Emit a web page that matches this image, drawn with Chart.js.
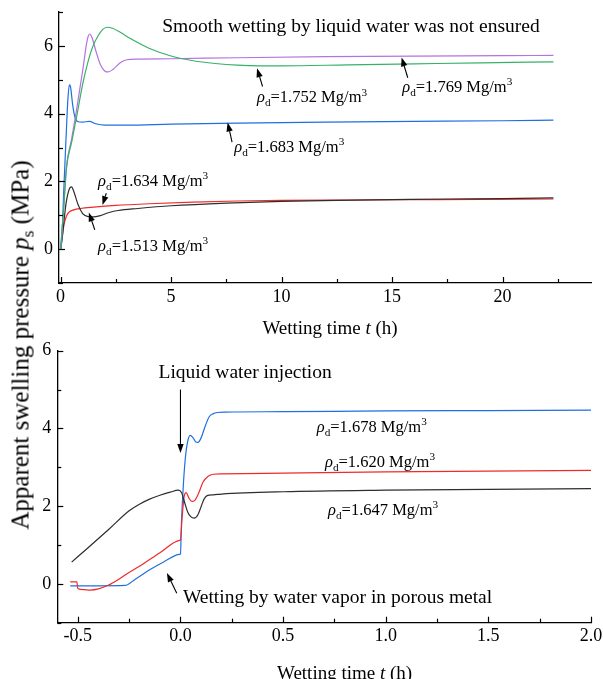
<!DOCTYPE html>
<html><head><meta charset="utf-8">
<script src="https://cdn.jsdelivr.net/npm/chart.js@4/dist/chart.umd.min.js"></script>
<style>
html,body{margin:0;padding:0;background:#fff;}
#wrap{position:relative;width:603px;height:679px;overflow:hidden;font-family:'Liberation Serif','Times New Roman',serif;color:#000;}
canvas{position:absolute;left:0;}
.t{position:absolute;white-space:nowrap;line-height:1;}
.t sub{font-size:0.7em;vertical-align:-0.3em;line-height:0;}
</style></head>
<body><div id="wrap">
<canvas id="c1" width="603" height="340" style="top:0"></canvas>
<canvas id="c2" width="603" height="339" style="top:340px"></canvas>
<div class="t" style="left:20px;top:345px;font-size:25px;transform:translate(-50%,-50%) rotate(-90deg);">Apparent swelling pressure <i>p</i><sub>s</sub> (MPa)</div>
<div class="t" style="left:330px;top:327px;font-size:19px;transform:translate(-50%,-50%);">Wetting time <i>t</i> (h)</div>
<div class="t" style="left:277px;top:672px;font-size:19px;transform:translateY(-50%);">Wetting time <i>t</i> (h)</div>
</div>
<script>
// ---------- TOP PANEL DATA (wetting time t in h, swelling pressure in MPa) ----------
const tBlack1513 = [0, 0.1, 0.25, 0.4, 0.5, 0.6, 0.8, 1.0, 1.25, 1.5, 1.8, 2.2, 2.6, 3.5, 5, 7.5, 10, 12.5, 15, 17.5, 20, 22.3];
const pBlack1513 = [0, 0.5, 1.35, 1.78, 1.84, 1.7, 1.3, 1.05, 0.96, 0.95, 0.99, 1.08, 1.14, 1.2, 1.28, 1.36, 1.41, 1.44, 1.46, 1.48, 1.49, 1.51];
const tRed1634 = [0, 0.08, 0.15, 0.27, 0.4, 0.6, 0.9, 1.5, 2.5, 4, 6, 8, 10, 13, 16, 19, 22.3];
const pRed1634 = [0, 0.35, 0.7, 0.98, 1.1, 1.16, 1.2, 1.24, 1.29, 1.34, 1.39, 1.42, 1.44, 1.45, 1.46, 1.47, 1.48];
const tBlue1683 = [0, 0.05, 0.15, 0.25, 0.33, 0.4, 0.45, 0.55, 0.65, 0.8, 1.0, 1.3, 1.6, 2.0, 3, 5, 8, 12, 16, 20, 22.3];
const pBlue1683 = [0, 0.2, 1.8, 3.3, 4.4, 4.85, 4.8, 4.25, 3.9, 3.76, 3.75, 3.77, 3.7, 3.66, 3.66, 3.69, 3.72, 3.75, 3.77, 3.79, 3.81];
const tGreen1752 = [0, 0.12, 0.27, 0.5, 0.71, 1.02, 1.25, 1.47, 1.7, 1.9, 2.1, 2.35, 2.7, 3.2, 4, 5, 6, 7, 8, 9, 10, 13, 16, 19, 22.3];
const pGreen1752 = [0, 1.0, 2.4, 3.15, 3.85, 4.93, 5.55, 6.0, 6.3, 6.48, 6.55, 6.52, 6.4, 6.2, 5.93, 5.7, 5.56, 5.48, 5.43, 5.41, 5.41, 5.44, 5.47, 5.5, 5.53];
const tPurple1769 = [0, 0.12, 0.27, 0.5, 0.71, 0.9, 1.02, 1.16, 1.25, 1.32, 1.42, 1.6, 1.8, 2.0, 2.15, 2.4, 2.7, 3.0, 3.5, 5, 8, 12, 16, 20, 22.3];
const pPurple1769 = [0, 1.0, 2.45, 3.25, 4.05, 4.85, 5.35, 6.0, 6.28, 6.35, 6.25, 5.85, 5.45, 5.26, 5.23, 5.32, 5.5, 5.59, 5.61, 5.62, 5.65, 5.68, 5.7, 5.71, 5.72];

// ---------- BOTTOM PANEL DATA ----------
const tBlue1678 = [-0.537, -0.4, -0.27, -0.22, -0.15, -0.08, -0.004, 0, 0.005, 0.015, 0.025, 0.035, 0.047, 0.06, 0.075, 0.085, 0.1, 0.12, 0.14, 0.16, 0.18, 0.22, 0.5, 1.0, 1.5, 2.0];
const pBlue1678 = [-0.05, -0.05, -0.04, 0.12, 0.36, 0.57, 0.76, 0.77, 1.6, 2.63, 3.3, 3.66, 3.82, 3.77, 3.65, 3.64, 3.75, 4.05, 4.3, 4.38, 4.41, 4.42, 4.43, 4.45, 4.46, 4.47];
const tRed1620 = [-0.537, -0.505, -0.5, -0.47, -0.44, -0.4, -0.35, -0.3, -0.26, -0.2, -0.1, -0.004, 0, 0.008, 0.018, 0.028, 0.04, 0.055, 0.07, 0.09, 0.11, 0.135, 0.16, 0.2, 0.5, 1.0, 1.5, 2.0];
const pRed1620 = [0.05, 0.05, -0.12, -0.15, -0.16, -0.13, -0.03, 0.12, 0.26, 0.45, 0.8, 1.12, 1.13, 1.7, 2.25, 2.35, 2.22, 2.12, 2.15, 2.35, 2.62, 2.77, 2.82, 2.83, 2.85, 2.88, 2.9, 2.92];
const tBlack1647 = [-0.53, -0.45, -0.35, -0.25, -0.2, -0.15, -0.1, -0.05, -0.01, 0.005, 0.02, 0.035, 0.05, 0.067, 0.085, 0.1, 0.115, 0.13, 0.16, 0.2, 0.5, 1.0, 1.5, 2.0];
const pBlack1647 = [0.56, 0.93, 1.4, 1.88, 2.05, 2.18, 2.28, 2.36, 2.41, 2.35, 2.1, 1.85, 1.73, 1.69, 1.78, 1.98, 2.18, 2.27, 2.29, 2.31, 2.37, 2.41, 2.43, 2.45];

// ---------- TICKS ----------
const xMajorTop = [0, 5, 10, 15, 20];
const xMinorTop = [2.5, 7.5, 12.5, 17.5, 22.5];
const yMajorTop = [0, 2, 4, 6];
const yMinorTop = [-1, 1, 3, 5, 7];
const xMajorBot = [-0.5, 0, 0.5, 1.0, 1.5, 2.0];
const xMinorBot = [-0.25, 0.25, 0.75, 1.25, 1.75];
const yMajorBot = [0, 2, 4, 6];
const yMinorBot = [-1, 1, 3, 5];

const C_BLACK = '#2e2e2e', C_RED = '#f02a2a', C_BLUE = '#1f6fe0', C_GREEN = '#38b068', C_PURPLE = '#b373e0';
const FONT = 'Liberation Serif';

function ds(ts, ps, color) {
  return { data: ts.map((x, i) => ({ x: x, y: ps[i] })), borderColor: color, borderWidth: 1.2,
    pointRadius: 0, fill: false, cubicInterpolationMode: 'monotone' };
}
function rho(val) {
  return [{ t: 'ρ', it: true }, { t: 'd', sub: true }, { t: '=' + val + ' Mg/m' }, { t: '3', sup: true }];
}
function isIn(arr, v) { return arr.some(a => Math.abs(a - v) < 1e-9); }

const inwardTicks = {
  id: 'inwardTicks',
  afterDraw(chart, args, opts) {
    const ctx = chart.ctx, xs = chart.scales.x, ys = chart.scales.y;
    const { bottom, left } = chart.chartArea;
    ctx.save(); ctx.strokeStyle = '#000'; ctx.lineWidth = 1.2;
    xs.ticks.forEach(t => {
      const px = Math.round(xs.getPixelForValue(t.value)) + 0.5;
      const len = isIn(opts.xMajor, t.value) ? 6 : 4;
      ctx.beginPath(); ctx.moveTo(px, bottom); ctx.lineTo(px, bottom - len); ctx.stroke();
    });
    ys.ticks.forEach(t => {
      const py = Math.round(ys.getPixelForValue(t.value)) + 0.5;
      const len = isIn(opts.yMajor, t.value) ? 6 : 4;
      ctx.beginPath(); ctx.moveTo(left, py); ctx.lineTo(left + len, py); ctx.stroke();
    });
    ctx.restore();
  }
};

function drawRich(ctx, x, yc, parts, size) {
  let cx = x;
  const base = yc + size * 0.33;
  parts.forEach(p => {
    const s = (p.sub || p.sup) ? size * 0.68 : size;
    ctx.font = (p.it ? 'italic ' : '') + s + 'px "' + FONT + '"';
    const dy = p.sub ? size * 0.25 : (p.sup ? -size * 0.4 : 0);
    ctx.fillText(p.t, cx, base + dy);
    cx += ctx.measureText(p.t).width;
  });
}

const notes = {
  id: 'notes',
  afterDatasetsDraw(chart, args, opts) {
    const ctx = chart.ctx, xs = chart.scales.x, ys = chart.scales.y;
    ctx.save(); ctx.fillStyle = '#000'; ctx.strokeStyle = '#000'; ctx.textAlign = 'left'; ctx.textBaseline = 'alphabetic';
    (opts.texts || []).forEach(n => {
      drawRich(ctx, xs.getPixelForValue(n.x), ys.getPixelForValue(n.y), n.parts, n.size);
    });
    (opts.arrows || []).forEach(a => {
      const x1 = xs.getPixelForValue(a.x1), y1 = ys.getPixelForValue(a.y1);
      const x2 = xs.getPixelForValue(a.x2), y2 = ys.getPixelForValue(a.y2);
      const ang = Math.atan2(y2 - y1, x2 - x1), L = 9, W = 3.2;
      const bx = x2 - L * Math.cos(ang), by = y2 - L * Math.sin(ang);
      ctx.lineWidth = 1.1;
      ctx.beginPath(); ctx.moveTo(x1, y1); ctx.lineTo(bx, by); ctx.stroke();
      ctx.beginPath(); ctx.moveTo(x2, y2);
      ctx.lineTo(bx + W * Math.sin(ang), by - W * Math.cos(ang));
      ctx.lineTo(bx - W * Math.sin(ang), by + W * Math.cos(ang));
      ctx.closePath(); ctx.fill();
    });
    ctx.restore();
  }
};

function scales(xr, xTicks, xMajor, xFmt, yr, yTicks, yMajor, yw, xh) {
  return {
    x: { type: 'linear', min: xr[0], max: xr[1],
      afterBuildTicks: s => { s.ticks = xTicks.map(v => ({ value: v })); },
      ticks: { autoSkip: false, maxRotation: 0, minRotation: 0, padding: 3, color: '#000',
        font: { family: FONT, size: 18 }, callback: v => isIn(xMajor, v) ? xFmt(v) : '' },
      grid: { display: false, drawTicks: false },
      border: { display: true, color: '#000', width: 1.3 },
      afterFit: s => { s.height = xh; s.paddingLeft = 0; s.paddingRight = 0; } },
    y: { type: 'linear', min: yr[0], max: yr[1],
      afterBuildTicks: s => { s.ticks = yTicks.map(v => ({ value: v })); },
      ticks: { autoSkip: false, padding: 6, color: '#000',
        font: { family: FONT, size: 18 }, callback: v => isIn(yMajor, v) ? String(v) : '' },
      grid: { display: false, drawTicks: false },
      border: { display: true, color: '#000', width: 1.3 },
      afterFit: s => { s.width = yw; s.paddingTop = 0; s.paddingBottom = 0; } }
  };
}

new Chart(document.getElementById('c1'), {
  type: 'line',
  data: { datasets: [
    ds(tGreen1752, pGreen1752, C_GREEN),
    ds(tPurple1769, pPurple1769, C_PURPLE),
    ds(tBlue1683, pBlue1683, C_BLUE),
    ds(tBlack1513, pBlack1513, C_BLACK),
    ds(tRed1634, pRed1634, C_RED)
  ] },
  options: {
    responsive: false, animation: false, devicePixelRatio: 1,
    layout: { padding: { left: 0, top: 12, right: 12, bottom: 0 } },
    scales: scales([-0.07, 24], xMajorTop.concat(xMinorTop).sort((a, b) => a - b), xMajorTop, v => String(v),
      [-1, 7], yMajorTop.concat(yMinorTop).sort((a, b) => a - b), yMajorTop, 59, 57),
    plugins: { legend: { display: false }, tooltip: { enabled: false },
      inwardTicks: { xMajor: xMajorTop, yMajor: yMajorTop },
      notes: {
        texts: [
          { x: 4.6, y: 6.6, size: 19.5, parts: [{ t: 'Smooth wetting by liquid water was not ensured' }] },
          { x: 8.89, y: 4.5, size: 16.5, parts: rho('1.752') },
          { x: 15.46, y: 4.8, size: 16.5, parts: rho('1.769') },
          { x: 7.86, y: 3.04, size: 16.5, parts: rho('1.683') },
          { x: 1.7, y: 2.03, size: 16.5, parts: rho('1.634') },
          { x: 1.7, y: 0.12, size: 16.5, parts: rho('1.513') }
        ],
        arrows: [
          { x1: 9.14, y1: 4.8, x2: 8.89, y2: 5.34 },
          { x1: 15.71, y1: 5.06, x2: 15.43, y2: 5.66 },
          { x1: 7.76, y1: 3.16, x2: 7.56, y2: 3.74 },
          { x1: 2.07, y1: 1.65, x2: 1.9, y2: 1.3 },
          { x1: 1.55, y1: 0.57, x2: 1.28, y2: 1.08 }
        ]
      }
    }
  },
  plugins: [inwardTicks, notes]
});

new Chart(document.getElementById('c2'), {
  type: 'line',
  data: { datasets: [
    ds(tBlack1647, pBlack1647, C_BLACK),
    ds(tRed1620, pRed1620, C_RED),
    ds(tBlue1678, pBlue1678, C_BLUE)
  ] },
  options: {
    responsive: false, animation: false, devicePixelRatio: 1,
    layout: { padding: { left: 0, top: 10.7, right: 12, bottom: 0 } },
    scales: scales([-0.6, 2.0], xMajorBot.concat(xMinorBot).sort((a, b) => a - b), xMajorBot, v => v.toFixed(1),
      [-1, 6], yMajorBot.concat(yMinorBot).sort((a, b) => a - b), yMajorBot, 57.3, 56.3),
    plugins: { legend: { display: false }, tooltip: { enabled: false },
      inwardTicks: { xMajor: xMajorBot, yMajor: yMajorBot },
      notes: {
        texts: [
          { x: -0.107, y: 5.47, size: 19.5, parts: [{ t: 'Liquid water injection' }] },
          { x: 0.664, y: 4.05, size: 16.5, parts: rho('1.678') },
          { x: 0.704, y: 3.15, size: 16.5, parts: rho('1.620') },
          { x: 0.719, y: 1.91, size: 16.5, parts: rho('1.647') },
          { x: 0.012, y: -0.33, size: 19.5, parts: [{ t: 'Wetting by water vapor in porous metal' }] }
        ],
        arrows: [
          { x1: 0, y1: 5.0, x2: 0, y2: 3.37 },
          { x1: -0.018, y1: -0.24, x2: -0.066, y2: 0.28 }
        ]
      }
    }
  },
  plugins: [inwardTicks, notes]
});
</script>
</body></html>
